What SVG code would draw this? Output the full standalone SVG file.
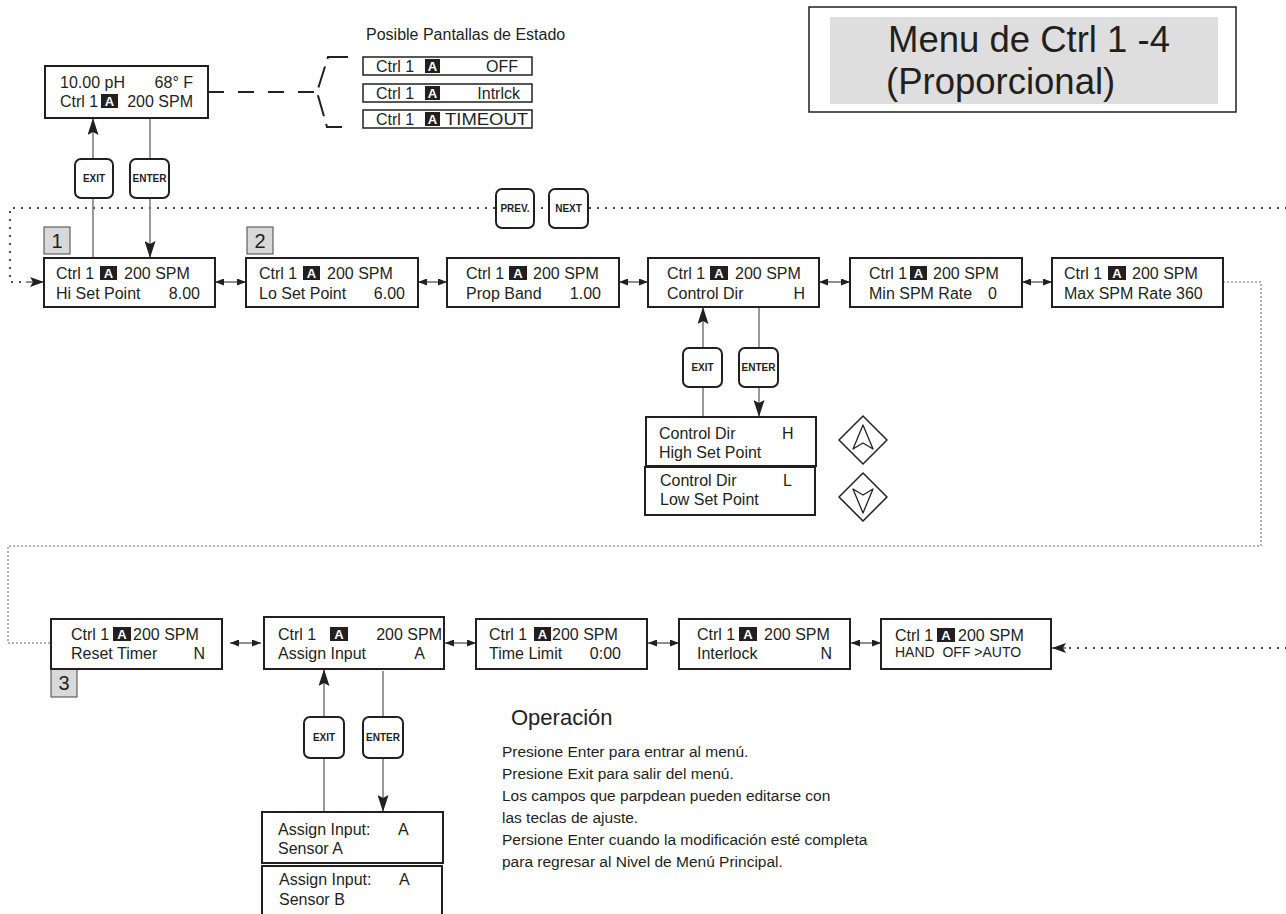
<svg xmlns="http://www.w3.org/2000/svg" width="1286" height="914" viewBox="0 0 1286 914">
<style>
text{font-family:"Liberation Sans",Arial,sans-serif;fill:#231f20}
.t{font-size:16px}
.ts{font-size:14px}
.box{fill:#fff;stroke:#231f20;stroke-width:2}
.sbox{fill:#fff;stroke:#231f20;stroke-width:1.5}
.bdg{fill:#231f20}
.bt{font-size:13px;font-weight:bold;fill:#fff;text-anchor:middle}
.btn{fill:#fff;stroke:#231f20;stroke-width:2}
.bl{font-size:10px;font-weight:bold;text-anchor:middle}
.lab{fill:#d9d9d9;stroke:#444;stroke-width:1}
.lt{font-size:20px;text-anchor:middle}
.e{text-anchor:end}
.op{font-size:15.5px}
.dbl{stroke:#231f20;stroke-width:1;fill:none;marker-start:url(#sa);marker-end:url(#sa)}
.v{stroke:#777;stroke-width:1.5;fill:none}
.dot{stroke:#231f20;stroke-width:2.2;stroke-linecap:round;stroke-dasharray:0 8;fill:none}
.fdot{stroke:#666;stroke-width:1;stroke-dasharray:2 2;fill:none}
</style>
<defs>
<marker id="sa" markerUnits="userSpaceOnUse" markerWidth="9" markerHeight="7" refX="9" refY="3.5" orient="auto-start-reverse"><path d="M0,0 L9,3.5 L0,7 z" fill="#231f20"/></marker>
<marker id="la" markerUnits="userSpaceOnUse" markerWidth="17" markerHeight="11" refX="17" refY="5.5" orient="auto"><path d="M0,0 L17,5.5 L0,11 L3,5.5 z" fill="#231f20"/></marker>
<marker id="ma" markerUnits="userSpaceOnUse" markerWidth="14" markerHeight="10" refX="14" refY="5" orient="auto"><path d="M0,0 L14,5 L0,10 L3,5 z" fill="#231f20"/></marker>
</defs>

<!-- title -->
<g id="title">
<rect x="809" y="7" width="427" height="105" fill="#fff" stroke="#231f20" stroke-width="1.5"/>
<rect x="830" y="17" width="388" height="87" fill="#dedede"/>
<text x="888" y="52" style="font-size:36.5px">Menu de Ctrl 1 -4</text>
<text x="886" y="94" style="font-size:36.5px">(Proporcional)</text>
</g>

<!-- connectors -->
<g id="connectors">
<path d="M208,92 H316" stroke="#231f20" stroke-width="2" stroke-dasharray="16 14" fill="none"/>
<path d="M348,57 H328 L317,92 L327,127 H342" stroke="#231f20" stroke-width="2" stroke-dasharray="22 8" fill="none"/>
<path class="dot" d="M1286,208 H10 V282 H26"/>
<line x1="26" y1="282" x2="44" y2="282" stroke="#231f20" stroke-width="1" marker-end="url(#ma)"/>
<path class="dot" d="M1286,648 H1066"/>
<line x1="1066" y1="648" x2="1052" y2="648" stroke="#231f20" stroke-width="1" marker-end="url(#ma)"/>
<path class="fdot" d="M1223,282 H1261 V546 H8 V643 H51"/>
<line class="v" x1="93" y1="258" x2="93" y2="118" marker-end="url(#la)"/>
<line class="v" x1="150" y1="118" x2="150" y2="258" marker-end="url(#la)"/>
<line class="v" x1="703" y1="417" x2="703" y2="307" marker-end="url(#la)"/>
<line class="v" x1="759" y1="307" x2="759" y2="417" marker-end="url(#la)"/>
<line class="v" x1="324" y1="812" x2="324" y2="669" marker-end="url(#la)"/>
<line class="v" x1="383" y1="671" x2="383" y2="812" marker-end="url(#la)"/>
<line class="dbl" x1="215" y1="282" x2="246" y2="282"/>
<line class="dbl" x1="418" y1="282" x2="447" y2="282"/>
<line class="dbl" x1="619" y1="282" x2="648" y2="282"/>
<line class="dbl" x1="819" y1="282" x2="850" y2="282"/>
<line class="dbl" x1="1022" y1="282" x2="1052" y2="282"/>
<line class="dbl" x1="230" y1="643" x2="261" y2="643"/>
<line class="dbl" x1="445" y1="643" x2="476" y2="643"/>
<line class="dbl" x1="648" y1="643" x2="679" y2="643"/>
<line class="dbl" x1="851" y1="643" x2="881" y2="643"/>
</g>

<!-- status -->
<g id="status">
<rect class="box" x="45" y="66" width="163" height="52"/>
<text class="t" x="60" y="88">10.00 pH</text>
<text class="t e" x="193" y="88">68° F</text>
<text class="t" x="60" y="107">Ctrl 1</text>
<rect class="bdg" x="101" y="94" width="17" height="14"/><text class="bt" x="109.5" y="106">A</text>
<text class="t e" x="193" y="107">200 SPM</text>
</g>

<g id="status-screens">
<text x="366" y="40" style="font-size:16px">Posible Pantallas de Estado</text>
<rect class="sbox" x="363" y="57" width="169" height="18"/>
<text class="t" x="376" y="72">Ctrl 1</text>
<rect class="bdg" x="425" y="59" width="15" height="14"/><text class="bt" x="432.5" y="71">A</text>
<text class="t e" x="518" y="72">OFF</text>
<rect class="sbox" x="363" y="84" width="169" height="18"/>
<text class="t" x="376" y="99">Ctrl 1</text>
<rect class="bdg" x="425" y="86" width="15" height="14"/><text class="bt" x="432.5" y="98">A</text>
<text class="t e" x="520" y="99">Intrlck</text>
<rect class="sbox" x="363" y="110" width="169" height="18"/>
<text class="t" x="376" y="125">Ctrl 1</text>
<rect class="bdg" x="425" y="112" width="15" height="14"/><text class="bt" x="432.5" y="124">A</text>
<text class="t" x="445" y="125" textLength="83" lengthAdjust="spacingAndGlyphs">TIMEOUT</text>
</g>

<!-- buttons -->
<g id="btn-exit-top"><rect class="btn" x="75" y="159" width="38" height="39" rx="6"/><text class="bl" x="94" y="182">EXIT</text></g>
<g id="btn-enter-top"><rect class="btn" x="130" y="159" width="39" height="39" rx="6"/><text class="bl" x="149.5" y="182">ENTER</text></g>
<g id="btn-prev"><rect class="btn" x="496" y="189" width="38" height="39" rx="6"/><text class="bl" x="515" y="212">PREV.</text></g>
<g id="btn-next"><rect class="btn" x="549" y="189" width="39" height="39" rx="6"/><text class="bl" x="568.5" y="212">NEXT</text></g>
<g id="btn-exit-mid"><rect class="btn" x="683" y="348" width="39" height="39" rx="6"/><text class="bl" x="702.5" y="371">EXIT</text></g>
<g id="btn-enter-mid"><rect class="btn" x="739" y="348" width="39" height="39" rx="6"/><text class="bl" x="758.5" y="371">ENTER</text></g>
<g id="btn-exit-bot"><rect class="btn" x="304" y="717" width="40" height="41" rx="6"/><text class="bl" x="324" y="741">EXIT</text></g>
<g id="btn-enter-bot"><rect class="btn" x="363" y="717" width="40" height="41" rx="6"/><text class="bl" x="383" y="741">ENTER</text></g>

<!-- labels -->
<g id="label-1"><rect class="lab" x="44" y="227" width="26" height="27"/><text class="lt" x="57" y="248">1</text></g>
<g id="label-2"><rect class="lab" x="247" y="227" width="26" height="27"/><text class="lt" x="260" y="248">2</text></g>
<g id="label-3"><rect class="lab" x="51" y="669" width="26" height="28"/><text class="lt" x="64" y="690">3</text></g>

<!-- row 1 -->
<g id="hi-set-point">
<rect class="box" x="44" y="258" width="171" height="49"/>
<text class="t" x="56" y="279">Ctrl 1</text>
<rect class="bdg" x="100" y="266" width="17" height="14"/><text class="bt" x="108.5" y="278">A</text>
<text class="t" x="124" y="279">200 SPM</text>
<text class="t" x="56" y="299">Hi Set Point</text>
<text class="t e" x="200" y="299">8.00</text>
</g>
<g id="lo-set-point">
<rect class="box" x="246" y="258" width="172" height="49"/>
<text class="t" x="259" y="279">Ctrl 1</text>
<rect class="bdg" x="303" y="266" width="17" height="14"/><text class="bt" x="311.5" y="278">A</text>
<text class="t" x="327" y="279">200 SPM</text>
<text class="t" x="259" y="299">Lo Set Point</text>
<text class="t e" x="405" y="299">6.00</text>
</g>
<g id="prop-band">
<rect class="box" x="447" y="258" width="172" height="49"/>
<text class="t" x="466" y="279">Ctrl 1</text>
<rect class="bdg" x="509" y="266" width="18" height="14"/><text class="bt" x="518" y="278">A</text>
<text class="t" x="533" y="279">200 SPM</text>
<text class="t" x="466" y="299">Prop Band</text>
<text class="t e" x="601" y="299">1.00</text>
</g>
<g id="control-dir">
<rect class="box" x="648" y="258" width="171" height="49"/>
<text class="t" x="667" y="279">Ctrl 1</text>
<rect class="bdg" x="710" y="266" width="18" height="14"/><text class="bt" x="719" y="278">A</text>
<text class="t" x="735" y="279">200 SPM</text>
<text class="t" x="667" y="299">Control Dir</text>
<text class="t e" x="805" y="299">H</text>
</g>
<g id="min-spm">
<rect class="box" x="850" y="258" width="172" height="49"/>
<text class="t" x="869" y="279">Ctrl 1</text>
<rect class="bdg" x="910" y="266" width="17" height="14"/><text class="bt" x="918.5" y="278">A</text>
<text class="t" x="933" y="279">200 SPM</text>
<text class="t" x="869" y="299">Min SPM Rate</text>
<text class="t" x="988" y="299">0</text>
</g>
<g id="max-spm">
<rect class="box" x="1052" y="258" width="171" height="49"/>
<text class="t" x="1064" y="279">Ctrl 1</text>
<rect class="bdg" x="1108" y="266" width="18" height="14"/><text class="bt" x="1117" y="278">A</text>
<text class="t" x="1132" y="279">200 SPM</text>
<text class="t" x="1064" y="299">Max SPM Rate 360</text>
</g>

<!-- control dir options -->
<g id="cd-high">
<rect class="box" x="646" y="417" width="170" height="49"/>
<text class="t" x="659" y="439">Control Dir</text>
<text class="t" x="782" y="439">H</text>
<text class="t" x="659" y="458">High Set Point</text>
</g>
<g id="cd-low">
<rect class="box" x="645" y="467" width="170" height="48"/>
<text class="t" x="660" y="486">Control Dir</text>
<text class="t" x="783" y="486">L</text>
<text class="t" x="660" y="505">Low Set Point</text>
</g>
<g id="key-up">
<path d="M863,416 L887,440 L863,464 L839,440 Z" fill="#fff" stroke="#231f20" stroke-width="1.5" stroke-linejoin="round"/>
<path d="M863,425 L873,449 L863,443 L853,449 Z" fill="none" stroke="#231f20" stroke-width="1.3" stroke-linejoin="round"/>
</g>
<g id="key-down">
<path d="M863,473 L887,497 L863,521 L839,497 Z" fill="#fff" stroke="#231f20" stroke-width="1.5" stroke-linejoin="round"/>
<path d="M863,513 L873,489 L863,495 L853,489 Z" fill="none" stroke="#231f20" stroke-width="1.3" stroke-linejoin="round"/>
</g>

<!-- row 2 -->
<g id="reset-timer">
<rect class="box" x="51" y="619" width="171" height="50"/>
<text class="t" x="71" y="640">Ctrl 1</text>
<rect class="bdg" x="113" y="627" width="18" height="14"/><text class="bt" x="122" y="639">A</text>
<text class="t" x="133" y="640">200 SPM</text>
<text class="t" x="71" y="659">Reset Timer</text>
<text class="t e" x="205" y="659">N</text>
</g>
<g id="assign-input">
<rect class="box" x="264" y="617" width="180" height="52"/>
<text class="t" x="278" y="640">Ctrl 1</text>
<rect class="bdg" x="330" y="627" width="18" height="14"/><text class="bt" x="339" y="639">A</text>
<text class="t e" x="442" y="640">200 SPM</text>
<text class="t" x="278" y="659">Assign Input</text>
<text class="t e" x="425" y="659">A</text>
</g>
<g id="time-limit">
<rect class="box" x="476" y="619" width="171" height="50"/>
<text class="t" x="489" y="640">Ctrl 1</text>
<rect class="bdg" x="534" y="627" width="17" height="14"/><text class="bt" x="542.5" y="639">A</text>
<text class="t" x="552" y="640">200 SPM</text>
<text class="t" x="489" y="659">Time Limit</text>
<text class="t e" x="621" y="659">0:00</text>
</g>
<g id="interlock">
<rect class="box" x="679" y="619" width="171" height="50"/>
<text class="t" x="697" y="640">Ctrl 1</text>
<rect class="bdg" x="739" y="627" width="18" height="14"/><text class="bt" x="748" y="639">A</text>
<text class="t" x="764" y="640">200 SPM</text>
<text class="t" x="697" y="659">Interlock</text>
<text class="t e" x="832" y="659">N</text>
</g>
<g id="hand-off-auto">
<rect class="box" x="881" y="619" width="170" height="50"/>
<text class="t" x="895" y="641">Ctrl 1</text>
<rect class="bdg" x="937" y="628" width="18" height="14"/><text class="bt" x="946" y="640">A</text>
<text class="t" x="958" y="641">200 SPM</text>
<text class="ts" x="895" y="657" xml:space="preserve">HAND  OFF &gt;AUTO</text>
</g>

<!-- assign input options -->
<g id="ai-sensor-a">
<rect class="box" x="262" y="812" width="181" height="51"/>
<text class="t" x="278" y="835">Assign Input:</text>
<text class="t" x="398" y="835">A</text>
<text class="t" x="278" y="854">Sensor A</text>
</g>
<g id="ai-sensor-b">
<rect class="box" x="262" y="866" width="180" height="60"/>
<text class="t" x="279" y="885">Assign Input:</text>
<text class="t" x="399" y="885">A</text>
<text class="t" x="279" y="905">Sensor B</text>
</g>

<!-- operation notes -->
<g id="operacion">
<text x="511" y="725" style="font-size:22px">Operación</text>
<text class="op" x="502" y="757">Presione Enter para entrar al menú.</text>
<text class="op" x="502" y="779">Presione Exit para salir del menú.</text>
<text class="op" x="502" y="801">Los campos que parpdean pueden editarse con</text>
<text class="op" x="502" y="822.5">las teclas de ajuste.</text>
<text class="op" x="502" y="844.5">Persione Enter cuando la modificación esté completa</text>
<text class="op" x="502" y="866.5">para regresar al Nivel de Menú Principal.</text>
</g>
</svg>
